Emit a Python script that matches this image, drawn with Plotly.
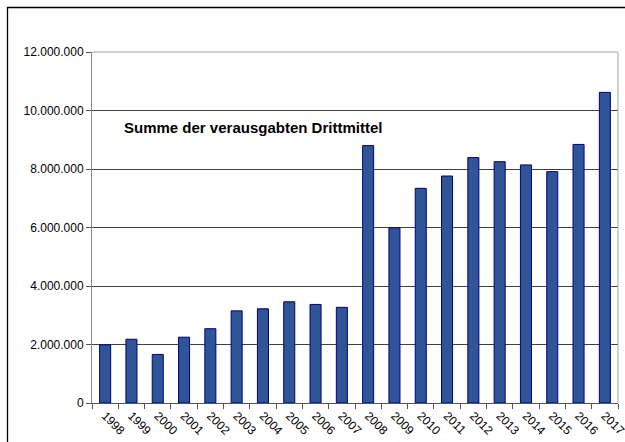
import plotly.graph_objects as go

years = ["1998", "1999", "2000", "2001", "2002", "2003", "2004", "2005", "2006", "2007",
         "2008", "2009", "2010", "2011", "2012", "2013", "2014", "2015", "2016", "2017"]
values = [1990000, 2180000, 1660000, 2250000, 2540000, 3150000, 3220000, 3460000, 3370000, 3270000,
          8800000, 5990000, 7340000, 7760000, 8390000, 8250000, 8140000, 7910000, 8840000, 10620000]
y_ticks = [0, 2000000, 4000000, 6000000, 8000000, 10000000, 12000000]
title_text = "Summe der verausgabten Drittmittel"

fig = go.Figure()
fig.add_trace(go.Bar(
    x=years, y=values,
    marker=dict(color="#2F5597", line=dict(color="#000080", width=1)),
    width=0.42,
))

fig.update_layout(
    width=625, height=442,
    margin=dict(l=92, r=7, t=52, b=39, pad=0, autoexpand=False),
    paper_bgcolor="white", plot_bgcolor="white",
    separators=",.",
    showlegend=False,
    font=dict(family="Liberation Sans, Arial, sans-serif", size=12, color="#000000"),
    xaxis=dict(
        type="category", tickangle=45, tickson="boundaries",
        ticks="outside", ticklen=5, tickcolor="#555555",
        showline=True, linecolor="#555555", linewidth=1,
        showgrid=False, mirror=False, automargin=False,
        tickfont=dict(size=12, color="#000000"),
    ),
    yaxis=dict(
        range=[0, 12000000], tickvals=y_ticks, tickformat=",d",
        ticks="outside", ticklen=5, tickcolor="#555555",
        showline=True, linecolor="#888888", linewidth=1,
        showgrid=True, gridcolor="#404040", gridwidth=1,
        zeroline=False, automargin=False,
        tickfont=dict(size=12, color="#000000"),
    ),
    shapes=[
        dict(type="line", xref="paper", yref="paper", x0=0, x1=1, y0=1, y1=1,
             line=dict(color="#a6a6a6", width=1)),
        dict(type="line", xref="paper", yref="paper", x0=1, x1=1, y0=0, y1=1,
             line=dict(color="#a6a6a6", width=1)),
        dict(type="rect", xref="paper", yref="paper",
             x0=(7.5 - 92) / 526, x1=(640 - 92) / 526,
             y0=(403 - 460) / 351, y1=(403 - 7.5) / 351,
             line=dict(color="#000000", width=1.3), fillcolor="rgba(0,0,0,0)", layer="above"),
    ],
    annotations=[
        dict(text="<b>" + title_text + "</b>", xref="paper", yref="paper",
             x=(122 - 92) / 526, y=(403 - 128) / 351, xanchor="left", yanchor="middle",
             showarrow=False, font=dict(size=15, color="#000000",
                                        family="Liberation Sans, Arial, sans-serif")),
    ],
)

fig.write_html("out.html", config={"displayModeBar": False},
               post_script="document.body.style.margin='0';")
